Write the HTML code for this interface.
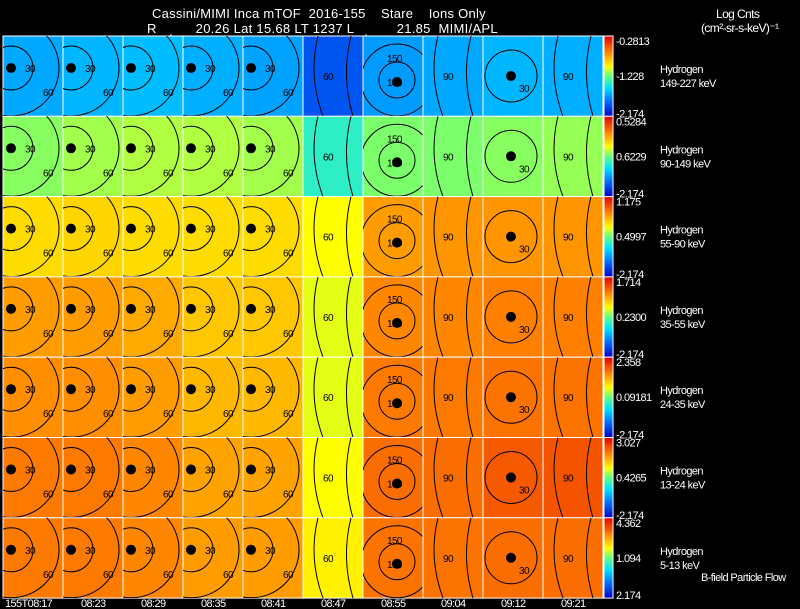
<!DOCTYPE html>
<html><head><meta charset="utf-8"><style>
html,body{margin:0;padding:0;background:#000;width:800px;height:609px;overflow:hidden}
svg{display:block}
text{font-family:"Liberation Sans",sans-serif;fill:#fff;letter-spacing:-0.6px;white-space:pre}
</style></head><body>
<svg id="chart" width="800" height="609" viewBox="0 0 800 609" xmlns="http://www.w3.org/2000/svg" xml:space="preserve">
<text x="152" y="18" font-size="13" textLength="333" lengthAdjust="spacing">Cassini/MIMI Inca mTOF  2016-155    Stare    Ions Only</text>
<text x="147" y="33" font-size="13" textLength="350" lengthAdjust="spacing">R          20.26 Lat 15.68 LT 1237 L           21.85  MIMI/APL</text>
<text x="158" y="42" font-size="12">satur</text>
<text x="353" y="42" font-size="12">saturn</text>
<text x="716" y="18" font-size="12">Log Cnts</text>
<text x="701" y="32" font-size="12">(cm²-sr-s-keV)⁻¹</text>
<text x="701" y="581" font-size="11">B-field Particle Flow</text>
<defs>
<linearGradient id="cb" x1="0" y1="1" x2="0" y2="0">
<stop offset="0" stop-color="#0000c8"/><stop offset="0.2" stop-color="#0078ff"/><stop offset="0.35" stop-color="#00e0ff"/><stop offset="0.5" stop-color="#60ff80"/><stop offset="0.62" stop-color="#ffff00"/><stop offset="0.8" stop-color="#ff8000"/><stop offset="1" stop-color="#e00000"/>
</linearGradient>
</defs>
<g id="grid"></g>
</svg>
<script>
const times=["155T08:17","08:23","08:29","08:35","08:41","08:47","08:55","09:04","09:12","09:21"];
const energies=["149-227 keV","90-149 keV","55-90 keV","35-55 keV","24-35 keV","13-24 keV","5-13 keV"];
const cbMax=["-0.2813","0.5284","1.175","1.714","2.358","3.027","4.362"];
const cbMid=["-1.228","0.6229","0.4997","0.2300","0.09181","0.4265","1.094"];
const cbMin=["-2.174","-2.174","-2.174","-2.174","-2.174","-2.174","2.174"];
const row1=[0.27,0.29,0.30,0.28,0.26,0.14,0.25,0.27,0.29,0.28];
const row2=[0.53,0.55,0.56,0.56,0.55,0.42,0.52,0.52,0.53,0.54];
const row3=[0.67,0.68,0.67,0.67,0.67,0.62,0.76,0.77,0.77,0.77];
const row4=[0.76,0.76,0.74,0.70,0.70,0.60,0.79,0.79,0.80,0.80];
const row5=[0.78,0.78,0.76,0.72,0.72,0.60,0.81,0.81,0.82,0.82];
const row6=[0.81,0.81,0.79,0.75,0.75,0.62,0.83,0.83,0.86,0.87];
const row7=[0.81,0.81,0.79,0.76,0.76,0.64,0.82,0.82,0.83,0.83];
const rows=[row1,row2,row3,row4,row5,row6,row7];
const X0=3,CW=60,Y0=36,RH=80.3;
const stops=[[0,[0,0,200]],[0.2,[0,120,255]],[0.35,[0,224,255]],[0.5,[96,255,128]],[0.62,[255,255,0]],[0.8,[255,128,0]],[1,[224,0,0]]];
function cmap(v){v=Math.max(0,Math.min(1,v));for(let i=1;i<stops.length;i++){if(v<=stops[i][0]){const a=stops[i-1],b=stops[i],t=(v-a[0])/(b[0]-a[0]);return 'rgb('+a[1].map((c,k)=>Math.round(c+(b[1][k]-c)*t)).join(',')+')';}}return 'rgb(224,0,0)';}
const xs=c=>X0+c*CW, ys=r=>Y0+r*RH;
const NS="http://www.w3.org/2000/svg";
const g=document.getElementById('grid');
function el(t,a,p){const e=document.createElementNS(NS,t);for(const k in a)e.setAttribute(k,a[k]);(p||g).appendChild(e);return e;}
rows.forEach((vals,r)=>{
  vals.forEach((v,c)=>{
    const x=xs(c),y=ys(r);
    const cell=el('rect',{x:x,y:y,width:CW,height:RH,fill:cmap(v),stroke:'#fff','stroke-width':1});
    
    
    const cc=el('g',{});
    
    
    const clip='clip'+r+'_'+c;
    const cp=el('clipPath',{id:clip},cc);el('rect',{x:x,y:y,width:CW,height:RH},cp);
    const inner=el('g',{'clip-path':'url(#'+clip+')',fill:'none',stroke:'#000','stroke-width':1},cc);
    if(c<5){
      el('circle',{cx:x+8,cy:y+32,r:22},inner);
      el('circle',{cx:x+8,cy:y+32,r:48},inner);
      el('circle',{cx:x+8,cy:y+32,r:4.5,fill:'#000'},inner);
      const t1=el('text',{x:x+22,y:y+36,'font-size':10,style:'fill:#000'},cc);t1.textContent='30';
      const t2=el('text',{x:x+40,y:y+60,'font-size':10,style:'fill:#000'},cc);t2.textContent='60';
    } else if(c===6){
      el('circle',{cx:x+34,cy:y+44,r:36},inner);
      el('circle',{cx:x+34,cy:y+44,r:18},inner);
      el('circle',{cx:x+34,cy:y+46,r:4.5,fill:'#000'},inner);
      const t1=el('text',{x:x+24,y:y+26,'font-size':10,style:'fill:#000'},cc);t1.textContent='150';
      const t2=el('text',{x:x+24,y:y+50,'font-size':10,style:'fill:#000'},cc);t2.textContent='180';
    } else if(c===8){
      el('circle',{cx:x+28,cy:y+40,r:26},inner);
      el('circle',{cx:x+28,cy:y+40,r:4.5,fill:'#000'},inner);
      const t1=el('text',{x:x+36,y:y+56,'font-size':10,style:'fill:#000'},cc);t1.textContent='30';
    } else {
      el('path',{d:'M'+(x+15)+' '+y+' Q'+(x+5)+' '+(y+40)+' '+(x+20)+' '+(y+RH)},inner);
      el('path',{d:'M'+(x+48)+' '+y+' Q'+(x+38)+' '+(y+40)+' '+(x+50)+' '+(y+RH)},inner);
      const t1=el('text',{x:x+20,y:y+44,'font-size':10,style:'fill:#000'},cc);t1.textContent=c===5?'60':'90';
    }
  });
  const y=ys(r);
  const cb=el('rect',{x:604,y:y,width:9,height:RH,fill:'url(#cb)',stroke:'#fff','stroke-width':1});
  
  
  const a=el('text',{x:616,y:y+9,'font-size':11});a.textContent=cbMax[r];
  
  const m=el('text',{x:616,y:y+44,'font-size':11});m.textContent=cbMid[r];
  
  const b=el('text',{x:616,y:y+RH+1,'font-size':11});b.textContent=cbMin[r];
  
  const h=el('text',{x:660,y:y+37,'font-size':11});h.textContent='Hydrogen';
  
  const e=el('text',{x:660,y:y+51,'font-size':11});e.textContent=energies[r];
  
});
times.forEach((t,c)=>{
  const tx=el('text',{x:c===0?5:xs(c)+18,y:607,'font-size':11});tx.textContent=t;
  
  
});
</script>
</body></html>
